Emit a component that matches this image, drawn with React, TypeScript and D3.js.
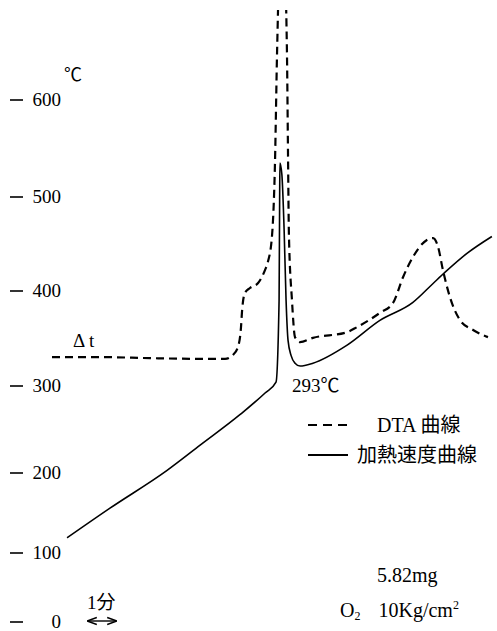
import React, { useEffect, useRef } from "react";
import * as d3 from "d3";

// 温度目盛 (非線形)
const tempTicks = [0, 100, 200, 300, 400, 500, 600];

// 加熱速度曲線 (時間[分], 温度[℃])
const heatTime = [0.54, 2.07, 4.11, 5.29, 6.71, 7.61, 8.0, 8.11, 8.13, 8.14, 8.21, 8.29, 8.36, 8.43, 8.54, 8.68, 8.86, 9.32, 10.54, 11.71, 12.89, 13.61, 14.04, 14.82, 15.71];
const heatTemp = [119, 156, 203, 232, 267, 292, 304, 390, 497, 535, 523, 465, 390, 348, 332, 324, 321, 324, 343, 369, 388, 408, 420, 440, 458];

// DTA 曲線 (時間[分], Δt 任意単位)
const dtaTime = [0, 1.71, 3.5, 5.29, 6.18, 6.46, 6.64, 6.75, 6.79, 6.89, 7.07, 7.36, 7.61, 7.71, 7.86, 7.96, 8.04, 8.14, 8.29, 8.39, 8.43, 8.46, 8.57, 8.68, 8.86, 9.32, 10.54, 10.89, 11.71, 12.18, 12.54, 12.89, 13.39, 13.61, 13.79, 13.96, 14.21, 14.57, 15.04, 15.57];
const dtaValue = [-0.03, -0.03, -0.06, -0.08, -0.08, 0.03, 0.25, 0.81, 1.29, 1.77, 1.91, 2.05, 2.42, 2.64, 3.4, 5.31, 8.6, 11.1, 11.1, 8.6, 5.59, 3.46, 1.57, 0.53, 0.39, 0.51, 0.67, 0.81, 1.21, 1.49, 2.22, 2.78, 3.26, 3.31, 3.06, 2.42, 1.66, 1.01, 0.73, 0.53];

const legendItems = ["DTA 曲線", "加熱速度曲線"];

const serif = "'Liberation Serif', 'Noto Sans CJK JP', serif";

export default function App() {
    const svgRef = useRef<SVGSVGElement>(null);

    useEffect(() => {
        const width = 497;
        const height = 631;

        const svg = d3.select(svgRef.current);
        svg.selectAll("*").remove();
        svg.attr("width", width).attr("height", height);

        // x: 時間 (1分 = 28px)
        const x = d3.scaleLinear().domain([0, 16]).range([52, 500]);
        // y: 温度目盛は等間隔ではない
        const y = d3.scaleLinear()
            .domain(tempTicks)
            .range([622, 553, 473, 386, 291, 197, 100]);
        // Δt 目盛
        const yd = d3.scaleLinear().domain([0, 10]).range([356, 0]);

        const defs = svg.append("defs");
        defs.append("clipPath").attr("id", "plot")
            .append("rect").attr("x", 0).attr("y", 10).attr("width", width).attr("height", height);

        const arrow = defs.append("marker")
            .attr("id", "arr")
            .attr("viewBox", "0 0 10 10")
            .attr("refX", 9).attr("refY", 5)
            .attr("markerWidth", 7).attr("markerHeight", 7)
            .attr("orient", "auto-start-reverse");
        arrow.append("path").attr("d", "M0,1.5 L10,5 L0,8.5").attr("fill", "none").attr("stroke", "#000").attr("stroke-width", 1.6);

        // 縦軸の目盛
        const ticks = svg.append("g");
        tempTicks.forEach(t => {
            ticks.append("line")
                .attr("x1", 10).attr("x2", 23)
                .attr("y1", y(t)).attr("y2", y(t))
                .attr("stroke", "#000").attr("stroke-width", 1.6);
            ticks.append("text")
                .attr("x", 61).attr("y", y(t) + 6)
                .attr("text-anchor", "end")
                .attr("font-family", serif).attr("font-size", 19)
                .text(String(t));
        });
        svg.append("text").attr("x", 64).attr("y", 81)
            .attr("font-family", serif).attr("font-size", 18).text("℃");

        const g = svg.append("g").attr("clip-path", "url(#plot)");

        const heat = heatTime.map((t, i) => [t, heatTemp[i]] as [number, number]);
        const dta = dtaTime.map((t, i) => [t, dtaValue[i]] as [number, number]);

        g.append("path")
            .attr("d", d3.line<[number, number]>().x(d => x(d[0])).y(d => y(d[1])).curve(d3.curveMonotoneX)(heat))
            .attr("fill", "none").attr("stroke", "#000").attr("stroke-width", 1.6);

        g.append("path")
            .attr("d", d3.line<[number, number]>().x(d => x(d[0])).y(d => yd(d[1])).curve(d3.curveMonotoneX)(dta))
            .attr("fill", "none").attr("stroke", "#000").attr("stroke-width", 2.2)
            .attr("stroke-dasharray", "8,5");

        // 注記
        svg.append("text").attr("x", 73).attr("y", 347)
            .attr("font-family", serif).attr("font-size", 19).text("Δ t");
        svg.append("text").attr("x", 292).attr("y", 392)
            .attr("font-family", serif).attr("font-size", 19).text("293℃");

        // 凡例
        legendItems.forEach((label, i) => {
            const ly = 425 + i * 30;
            svg.append("line")
                .attr("x1", 308).attr("x2", 348).attr("y1", ly).attr("y2", ly)
                .attr("stroke", "#000")
                .attr("stroke-width", i === 0 ? 2.2 : 1.8)
                .attr("stroke-dasharray", i === 0 ? "9,6" : null);
            svg.append("text")
                .attr("x", i === 0 ? 377 : 357).attr("y", ly + 7)
                .attr("font-family", serif).attr("font-size", 20)
                .text(label);
        });

        // 時間スケール
        svg.append("text").attr("x", 87).attr("y", 609)
            .attr("font-family", serif).attr("font-size", 19).text("1分");
        svg.append("line")
            .attr("x1", x(0) + 36).attr("x2", x(1) + 36).attr("y1", 621).attr("y2", 621)
            .attr("stroke", "#000").attr("stroke-width", 1.4)
            .attr("marker-start", "url(#arr)").attr("marker-end", "url(#arr)");

        // 試料条件
        svg.append("text").attr("x", 377).attr("y", 582)
            .attr("font-family", serif).attr("font-size", 20).text("5.82mg");
        const cond = svg.append("text").attr("x", 340).attr("y", 617)
            .attr("font-family", serif).attr("font-size", 20);
        cond.append("tspan").text("O");
        cond.append("tspan").attr("font-size", 12).attr("dy", 3).text("2");
        cond.append("tspan").attr("dy", -3).attr("dx", 18).text("10Kg/cm");
        cond.append("tspan").attr("font-size", 12).attr("dy", -8).text("2");
    }, []);

    return <svg ref={svgRef} style={{ position: "absolute", left: 0, top: 0, background: "#fff" }}></svg>;
}
